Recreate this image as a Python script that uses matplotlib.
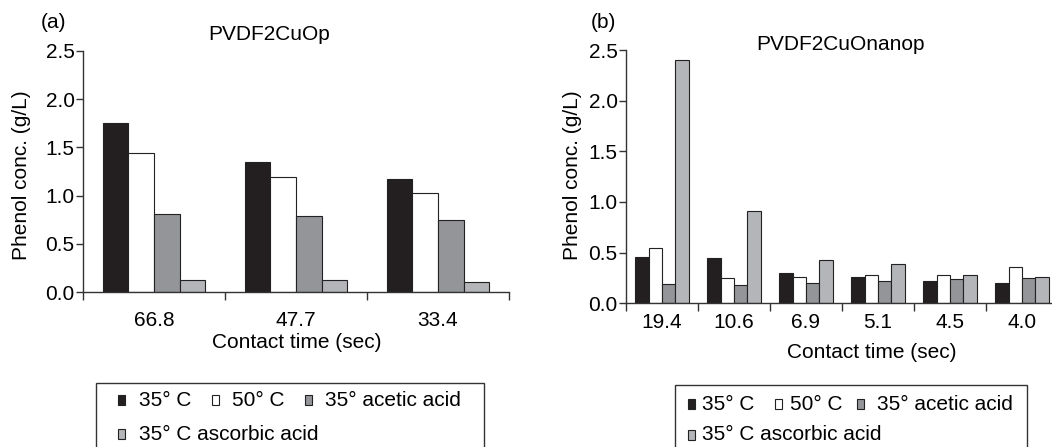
import matplotlib
matplotlib.use("Agg")
import matplotlib.pyplot as plt
from matplotlib.patches import Rectangle
import numpy as np

plt.rcParams['font.family'] = ['Liberation Sans', 'DejaVu Sans']

# ---- data ----
series_labels = ["35\u00b0 C", "50\u00b0 C", "35\u00b0 acetic acid", "35\u00b0 C ascorbic acid"]
colors = ["#231f20", "#ffffff", "#939598", "#b3b5b8"]

times_a = ["66.8", "47.7", "33.4"]
a_35C = [1.75, 1.35, 1.17]
a_50C = [1.44, 1.19, 1.03]
a_acetic = [0.81, 0.79, 0.75]
a_ascorbic = [0.12, 0.12, 0.10]

times_b = ["19.4", "10.6", "6.9", "5.1", "4.5", "4.0"]
b_35C = [0.46, 0.45, 0.30, 0.26, 0.22, 0.20]
b_50C = [0.55, 0.25, 0.26, 0.28, 0.28, 0.36]
b_acetic = [0.19, 0.18, 0.20, 0.22, 0.24, 0.25]
b_ascorbic = [2.40, 0.91, 0.43, 0.385, 0.28, 0.26]

W, H = 1052, 447
fig = plt.figure(figsize=(W / 100, H / 100), dpi=100)
FS = 15
EDGE = "#222222"
SPINE = "#333333"


def fx(x):
    return x / W


def fy(y):
    return 1 - y / H


def make_panel(rect, cats, series, bw, xpad):
    ax = fig.add_axes(rect)
    n = len(cats)
    centers = np.arange(n) + 0.5
    for k, (vals, c) in enumerate(zip(series, colors)):
        ax.bar(centers + (k - 1.5) * bw, vals, width=bw, color=c,
               edgecolor=EDGE, linewidth=0.8, zorder=2)
    ax.set_xlim(0, n)
    ax.set_ylim(0, 2.5)
    ax.set_yticks(np.arange(0, 2.51, 0.5))
    ax.set_yticklabels([f"{v:.1f}" for v in np.arange(0, 2.51, 0.5)], fontsize=FS)
    ax.set_xticks(np.arange(0, n + 1))
    ax.set_xticklabels([])
    ax.set_xticks(centers, minor=True)
    ax.set_xticklabels(cats, minor=True, fontsize=FS)
    ax.tick_params(axis='x', which='minor', length=0, pad=xpad)
    ax.tick_params(axis='x', which='major', length=6, width=1, color=SPINE, direction='out')
    ax.tick_params(axis='y', length=5, width=1, color=SPINE, pad=1)
    for s in ['top', 'right']:
        ax.spines[s].set_visible(False)
    for s in ['left', 'bottom']:
        ax.spines[s].set_color(SPINE)
        ax.spines[s].set_linewidth(1)
    return ax


# panel (a): x 83..509, y 292 (0) .. 51 (2.5)
ax_a = make_panel([fx(83), fy(292), (509 - 83) / W, (292 - 51) / H], times_a,
                  [a_35C, a_50C, a_acetic, a_ascorbic], 0.18, 14)
# panel (b): x 626..1058, y 303.3 .. 50
ax_b = make_panel([fx(626), fy(303.3), (1058 - 626) / W, (303.3 - 50) / H], times_b,
                  [b_35C, b_50C, b_acetic, b_ascorbic], 0.186, 7)

# texts
fig.text(fx(54), fy(23), "(a)", fontsize=FS, ha='center', va='center')
fig.text(fx(269), fy(35), "PVDF2CuOp", fontsize=FS, ha='center', va='center')
fig.text(fx(22), fy(175), "Phenol conc. (g/L)", fontsize=FS, ha='center', va='center', rotation=90)
fig.text(fx(297), fy(343), "Contact time (sec)", fontsize=FS, ha='center', va='center')

fig.text(fx(603), fy(22), "(b)", fontsize=FS, ha='center', va='center')
fig.text(fx(841), fy(45), "PVDF2CuOnanop", fontsize=FS, ha='center', va='center')
fig.text(fx(572), fy(175), "Phenol conc. (g/L)", fontsize=FS, ha='center', va='center', rotation=90)
fig.text(fx(872), fy(352), "Contact time (sec)", fontsize=FS, ha='center', va='center')


def legend_box(x0, x1, ytop, items):
    fig.patches.append(Rectangle((fx(x0), fy(H + 5)), (x1 - x0) / W, (H + 5 - ytop) / H,
                                 transform=fig.transFigure, facecolor='none',
                                 edgecolor=SPINE, linewidth=1))
    for (mx, tx, yc, idx) in items:
        fig.patches.append(Rectangle((fx(mx - 3.5), fy(yc + 5)), 7 / W, 10 / H,
                                     transform=fig.transFigure, facecolor=colors[idx],
                                     edgecolor=EDGE, linewidth=0.8))
        fig.text(fx(tx), fy(yc), series_labels[idx], fontsize=FS, ha='left', va='center')


legend_box(96, 484, 383, [(121, 139, 400, 0), (215, 232, 400, 1), (308, 325, 400, 2),
                          (121, 139, 434, 3)])
legend_box(675, 1027, 385, [(691, 702, 404, 0), (778, 790, 404, 1), (860, 877, 404, 2),
                            (691, 702, 435, 3)])

fig.savefig("out.png", dpi=100)
